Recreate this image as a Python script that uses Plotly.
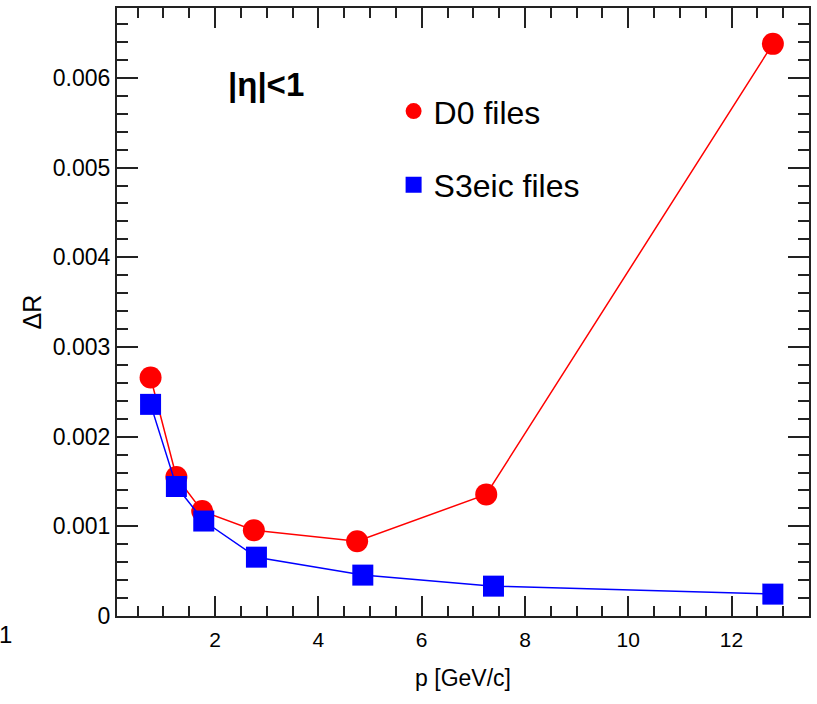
import plotly.graph_objects as go

# Data
d0_p = [0.75, 1.25, 1.75, 2.75, 4.75, 7.25, 12.8]
d0_dr = [0.00266, 0.00155, 0.00117, 0.000956, 0.000833, 0.001356, 0.00638]
s3_p = [0.75, 1.25, 1.78, 2.8, 4.86, 7.39, 12.8]
s3_dr = [0.00236, 0.001444, 0.001059, 0.000656, 0.000456, 0.000333, 0.000244]

y_tickvals = [0, 0.001, 0.002, 0.003, 0.004, 0.005, 0.006]
y_ticktext = ["0", "0.001", "0.002", "0.003", "0.004", "0.005", "0.006"]
x_tickvals = [2, 4, 6, 8, 10, 12]

FONT = "Liberation Sans, Arial, Helvetica, sans-serif"
W, H = 817, 704
ML, MR, MT, MB = 117, 7, 6, 88

fig = go.Figure()
fig.add_trace(go.Scatter(
    x=d0_p, y=d0_dr, mode="lines+markers", name="D0 files",
    line=dict(color="#ff0000", width=1.5),
    marker=dict(symbol="circle", size=22, color="#ff0000"),
    showlegend=False,
))
fig.add_trace(go.Scatter(
    x=s3_p, y=s3_dr, mode="lines+markers", name="S3eic files",
    line=dict(color="#0000ff", width=1.5),
    marker=dict(symbol="square", size=21, color="#0000ff"),
    showlegend=False,
))
# legend entries (marker only, as in the reference legend)
fig.add_trace(go.Scatter(
    x=[None], y=[None], mode="markers", name="D0 files",
    marker=dict(symbol="circle", size=22, color="#ff0000"),
    legendgroup="a",
))
fig.add_trace(go.Scatter(
    x=[None], y=[None], mode="markers", name="S3eic files",
    marker=dict(symbol="square", size=21, color="#0000ff"),
    legendgroup="b",
))

axis_common = dict(
    showline=True, linecolor="#222", linewidth=2, mirror="allticks",
    ticks="inside", tickcolor="#222", tickwidth=2,
    showgrid=False, zeroline=False,
)

fig.update_xaxes(
    range=[0.1, 13.5], tickvals=x_tickvals, ticklen=20,
    tickfont=dict(family=FONT, size=21, color="#000"),
    minor=dict(ticks="inside", ticklen=10, dtick=0.5, tick0=0, tickcolor="#222", tickwidth=2),
    title=dict(text="p [GeV/c]", font=dict(family=FONT, size=23, color="#000"), standoff=20),
    ticklabelstandoff=4,
    **axis_common,
)
fig.update_yaxes(
    range=[0, 0.00678], tickvals=y_tickvals, ticktext=y_ticktext, ticklen=21,
    tickfont=dict(family=FONT, size=23, color="#000"),
    minor=dict(ticks="inside", ticklen=11, dtick=0.0002, tick0=0, tickcolor="#222", tickwidth=2),
    title=dict(text="ΔR", font=dict(family=FONT, size=25, color="#000"), standoff=4),
    **axis_common,
)

def px_x(px):
    return (px - ML) / (W - ML - MR)

def px_y(py):
    return 1 - (py - MT) / (H - MT - MB)

fig.update_layout(
    width=W, height=H,
    margin=dict(l=ML, r=MR, t=MT, b=MB),
    paper_bgcolor="white", plot_bgcolor="white",
    font=dict(family=FONT, color="#000"),
    showlegend=True,
    legend=dict(
        x=px_x(394), y=px_y(82), xanchor="left", yanchor="top",
        font=dict(family=FONT, size=32, color="#000"),
        bgcolor="rgba(0,0,0,0)", borderwidth=0,
        traceorder="grouped", tracegroupgap=29,
    ),
    annotations=[
        dict(text="<b>|η|<1</b>", x=px_x(226), y=px_y(83), xref="paper", yref="paper",
             xanchor="left", yanchor="middle", showarrow=False,
             font=dict(family=FONT, size=33, color="#000")),
        dict(text="1", x=0, y=-0.03, xref="paper", yref="paper", xshift=-ML + 5,
             xanchor="center", yanchor="middle", showarrow=False,
             font=dict(family=FONT, size=24, color="#000")),
    ],
)

fig.write_html("out.html")
